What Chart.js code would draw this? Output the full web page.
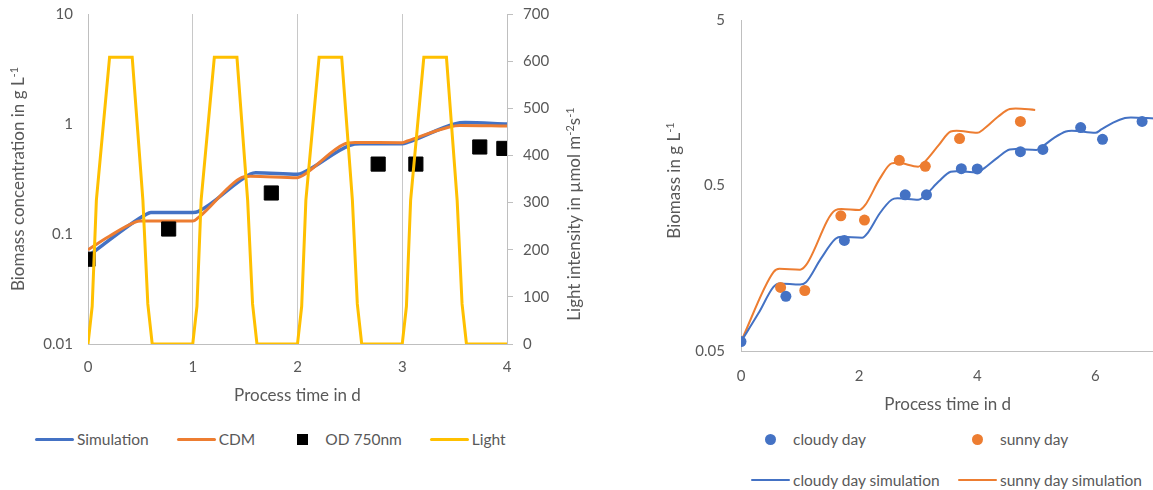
<!DOCTYPE html>
<html>
<head>
<meta charset="utf-8">
<script src="https://cdn.jsdelivr.net/npm/chart.js@4.4.1/dist/chart.umd.min.js"></script>
<style>
  html, body { margin: 0; padding: 0; background: #fff; overflow: hidden; width: 1153px; height: 490px; }
  body { position: relative; font-family: Lato, "Open Sans", sans-serif; color: #595959; }
  canvas { position: absolute; top: 0; }
  #growth { left: 0; }
  #weather { left: 620px; }
  .legend { position: absolute; display: flex; align-items: center; font-size: 15.5px; white-space: nowrap; }
  .item { display: flex; align-items: center; margin-right: 28px; }
  .mark { width: 39px; height: 12px; display: flex; align-items: center; justify-content: center; margin-right: 3px; }
  .line { width: 39px; border-radius: 2px; }
  .square { width: 11px; height: 11px; }
  .dot { width: 11px; height: 11px; border-radius: 50%; }
  #legendGrowth { left: 35px; top: 430px; }
  #legendWeather { left: 751px; top: 430px; display: grid; grid-template-columns: 207px auto; row-gap: 23px; }
</style>
</head>
<body>
<canvas id="growth" width="600" height="420"></canvas>
<canvas id="weather" width="540" height="420"></canvas>
<div class="legend" id="legendGrowth"></div>
<div class="legend" id="legendWeather"></div>
<script>
// ---- left panel: 4-day run with light profile ----
const simTime    = [0, 0.55, 0.6, 1.0, 1.05, 1.55, 1.6, 2.0, 2.05, 2.5, 2.6, 3.0, 3.05, 3.5, 3.6, 4.0];
const simBiomass = [0.063, 0.150, 0.157, 0.157, 0.16, 0.35, 0.36, 0.35, 0.36, 0.64, 0.66, 0.66, 0.68, 1.0, 1.03, 1.0];

const cdmTime    = [0, 0.2, 0.45, 0.5, 1.0, 1.05, 1.45, 1.55, 2.0, 2.05, 2.45, 2.55, 3.0, 3.05, 3.45, 3.55, 4.0];
const cdmBiomass = [0.072, 0.095, 0.128, 0.131, 0.131, 0.14, 0.32, 0.335, 0.325, 0.34, 0.66, 0.68, 0.675, 0.70, 0.94, 0.97, 0.96];

const odTime  = [0, 0.77, 1.75, 2.77, 3.13, 3.74, 3.97];
const odValue = [0.059, 0.111, 0.236, 0.432, 0.432, 0.618, 0.600];

const lightTime = [
  0, 0.04, 0.08, 0.206, 0.422, 0.524, 0.571, 0.613,
  1, 1.04, 1.08, 1.206, 1.422, 1.524, 1.571, 1.613,
  2, 2.04, 2.08, 2.206, 2.422, 2.524, 2.571, 2.613,
  3, 3.04, 3.08, 3.206, 3.422, 3.524, 3.571, 3.613,
  4
];
const lightValue = [
  0, 80, 305, 608, 608, 305, 85, 0,
  0, 80, 305, 608, 608, 305, 85, 0,
  0, 80, 305, 608, 608, 305, 85, 0,
  0, 80, 305, 608, 608, 305, 85, 0,
  0
];

const growthTicks = [0.01, 0.1, 1, 10];

// ---- right panel: cloudy vs sunny day cultivation ----
const cloudyTime  = [0, 0.76, 1.75, 2.78, 3.14, 3.73, 4.0, 4.73, 5.11, 5.75, 6.12, 6.79];
const cloudyValue = [0.057, 0.107, 0.233, 0.439, 0.439, 0.632, 0.63, 0.80, 0.826, 1.12, 0.95, 1.22];

const sunnyTime  = [0.67, 1.08, 1.69, 2.09, 2.68, 3.12, 3.70, 4.73];
const sunnyValue = [0.121, 0.116, 0.328, 0.309, 0.71, 0.653, 0.96, 1.22];

const cloudySimTime  = [0, 0.3, 0.55, 0.65, 1.0, 1.1, 1.35, 1.6, 1.7, 2.05, 2.15, 2.35, 2.55, 2.65, 3.0, 3.1, 3.35, 3.55, 3.65, 4.0, 4.1, 4.35, 4.55, 4.65, 5.0, 5.1, 5.3, 5.5, 5.6, 6.0, 6.1, 6.3, 6.5, 6.6, 7.0];
const cloudySimValue = [0.057, 0.085, 0.122, 0.128, 0.126, 0.13, 0.18, 0.238, 0.245, 0.242, 0.26, 0.34, 0.41, 0.418, 0.41, 0.43, 0.53, 0.605, 0.61, 0.60, 0.63, 0.74, 0.825, 0.83, 0.82, 0.86, 0.97, 1.06, 1.07, 1.04, 1.09, 1.2, 1.28, 1.29, 1.27];

const sunnySimTime  = [0, 0.55, 0.65, 1.0, 1.1, 1.6, 1.7, 2.0, 2.1, 2.35, 2.55, 2.65, 3.0, 3.1, 3.35, 3.55, 3.65, 4.0, 4.1, 4.35, 4.55, 4.65, 4.98];
const sunnySimValue = [0.057, 0.150, 0.157, 0.155, 0.165, 0.355, 0.36, 0.355, 0.38, 0.55, 0.68, 0.685, 0.65, 0.69, 0.88, 1.06, 1.07, 1.04, 1.09, 1.3, 1.45, 1.46, 1.43];

const weatherTicks = [0.05, 0.5, 5];

const BLUE = '#4472C4', ORANGE = '#ED7D31', GOLD = '#FFC000', AXIS = '#BFBFBF', TEXT = '#595959';
const FONT = 'Lato, "Open Sans", sans-serif';

Chart.defaults.font.family = FONT;
Chart.defaults.font.size = 15;
Chart.defaults.color = TEXT;

const xy = (xs, ys) => xs.map((x, i) => ({ x: x, y: ys[i] }));

// fixed axis width; drop the tick-padding chart.js adds above/below vertical axes
const fixWidth = w => scale => {
  scale.width = w;
  scale.paddingTop = 0;
  scale.paddingBottom = 0;
};

// rotated axis titles with superscripts, reading bottom to top
function sideTitles(items) {
  return {
    id: 'sideTitles',
    afterDraw(chart) {
      const ctx = chart.ctx;
      const area = chart.chartArea;
      items.forEach(item => {
        const cx = item.side === 'left' ? area.left - item.offset : area.right + item.offset;
        const cy = (area.top + area.bottom) / 2 + (item.shift || 0);
        const widths = item.parts.map(p => {
          ctx.font = (p.sup ? '11px ' : '17px ') + FONT;
          return ctx.measureText(p.text).width;
        });
        const total = widths.reduce((a, b) => a + b, 0);
        ctx.save();
        ctx.translate(cx, cy);
        ctx.rotate(-Math.PI / 2);
        ctx.fillStyle = TEXT;
        ctx.textBaseline = 'middle';
        let x = -total / 2;
        item.parts.forEach((p, i) => {
          ctx.font = (p.sup ? '11px ' : '17px ') + FONT;
          ctx.fillText(p.text, x, p.sup ? -5 : 0);
          x += widths[i];
        });
        ctx.restore();
      });
    }
  };
}

const growthChart = new Chart(document.getElementById('growth'), {
  type: 'line',
  data: {
    datasets: [
      {
        label: 'Simulation',
        data: xy(simTime, simBiomass),
        borderColor: BLUE, borderWidth: 3.5, pointRadius: 0,
        cubicInterpolationMode: 'monotone', yAxisID: 'y', order: 3
      },
      {
        label: 'CDM',
        data: xy(cdmTime, cdmBiomass),
        borderColor: ORANGE, borderWidth: 3, pointRadius: 0,
        cubicInterpolationMode: 'monotone', yAxisID: 'y', order: 2
      },
      {
        label: 'OD 750nm',
        data: xy(odTime, odValue),
        showLine: false, pointStyle: 'rect', pointRadius: 10,
        backgroundColor: '#000', borderColor: '#000', borderWidth: 1,
        yAxisID: 'y', order: 1
      },
      {
        label: 'Light',
        data: xy(lightTime, lightValue),
        borderColor: GOLD, borderWidth: 3, pointRadius: 0,
        tension: 0, yAxisID: 'y1', order: 0
      }
    ]
  },
  options: {
    responsive: false,
    animation: false,
    devicePixelRatio: 1,
    layout: { padding: { top: 14, left: 0, right: 0, bottom: 0 } },
    plugins: { legend: { display: false }, tooltip: { enabled: false } },
    scales: {
      x: {
        type: 'linear', min: 0, max: 4,
        ticks: { stepSize: 1, padding: 14 },
        grid: { color: '#C8C8C8', drawTicks: false },
        border: { color: AXIS },
        title: { display: true, text: 'Process time in d', font: { size: 17 }, padding: { top: 0, bottom: 14 } },
        afterFit(scale) { scale.height = 76; }
      },
      y: {
        type: 'logarithmic', position: 'left', min: 0.01, max: 10,
        afterBuildTicks(scale) { scale.ticks = growthTicks.map(v => ({ value: v })); },
        ticks: { padding: 15, callback: v => String(v) },
        grid: { display: false, drawTicks: false },
        border: { display: true, color: AXIS },
        afterFit: fixWidth(88)
      },
      y1: {
        type: 'linear', position: 'right', min: 0, max: 700,
        ticks: { stepSize: 100, padding: 10 },
        grid: { drawOnChartArea: false, drawTicks: true, tickLength: 6, color: AXIS },
        border: { color: AXIS },
        afterFit: fixWidth(93)
      }
    }
  },
  plugins: [sideTitles([
    { side: 'left', offset: 69, parts: [{ text: 'Biomass concentration in g L' }, { text: '-1', sup: true }] },
    { side: 'right', offset: 68, shift: 35, parts: [{ text: 'Light intensity in \u00b5mol m' }, { text: '-2', sup: true }, { text: 's' }, { text: '-1', sup: true }] }
  ])]
});

const weatherChart = new Chart(document.getElementById('weather'), {
  type: 'line',
  data: {
    datasets: [
      {
        label: 'cloudy day',
        data: xy(cloudyTime, cloudyValue),
        showLine: false, pointRadius: 5.5, pointStyle: 'circle',
        backgroundColor: BLUE, borderColor: BLUE, borderWidth: 0, order: 0
      },
      {
        label: 'sunny day',
        data: xy(sunnyTime, sunnyValue),
        showLine: false, pointRadius: 5.5, pointStyle: 'circle',
        backgroundColor: ORANGE, borderColor: ORANGE, borderWidth: 0, order: 1
      },
      {
        label: 'cloudy day simulation',
        data: xy(cloudySimTime, cloudySimValue),
        borderColor: BLUE, borderWidth: 2, pointRadius: 0,
        cubicInterpolationMode: 'monotone', order: 2
      },
      {
        label: 'sunny day simulation',
        data: xy(sunnySimTime, sunnySimValue),
        borderColor: ORANGE, borderWidth: 2, pointRadius: 0,
        cubicInterpolationMode: 'monotone', order: 3
      }
    ]
  },
  options: {
    responsive: false,
    animation: false,
    devicePixelRatio: 1,
    layout: { padding: { top: 20, left: 0, right: 0, bottom: 0 } },
    plugins: { legend: { display: false }, tooltip: { enabled: false } },
    scales: {
      x: {
        type: 'linear', min: 0, max: 7,
        ticks: { stepSize: 2, padding: 16, includeBounds: false },
        grid: { display: false, drawTicks: false },
        border: { color: AXIS },
        title: { display: true, text: 'Process time in d', font: { size: 17 }, padding: { top: 0, bottom: 5 } },
        afterFit(scale) { scale.height = 69; }
      },
      y: {
        type: 'logarithmic', min: 0.05, max: 5,
        afterBuildTicks(scale) { scale.ticks = weatherTicks.map(v => ({ value: v })); },
        ticks: { padding: 16, callback: v => String(v) },
        grid: { display: false, drawTicks: false },
        border: { display: true, color: AXIS },
        afterFit: fixWidth(121)
      }
    }
  },
  plugins: [sideTitles([
    { side: 'left', offset: 66, shift: -5, parts: [{ text: 'Biomass in g L' }, { text: '-1', sup: true }] }
  ])]
});

// HTML legends built from the datasets
function markFor(ds) {
  const mark = document.createElement('span');
  mark.className = 'mark';
  const inner = document.createElement('span');
  if (ds.showLine === false) {
    inner.className = ds.pointStyle === 'rect' ? 'square' : 'dot';
    inner.style.background = ds.backgroundColor;
  } else {
    inner.className = 'line';
    inner.style.height = (ds.borderWidth >= 3 ? 3 : 2) + 'px';
    inner.style.background = ds.borderColor;
  }
  mark.appendChild(inner);
  return mark;
}

function buildLegend(chart, el) {
  chart.data.datasets.forEach(ds => {
    const item = document.createElement('span');
    item.className = 'item';
    item.appendChild(markFor(ds));
    const label = document.createElement('span');
    label.textContent = ds.label;
    item.appendChild(label);
    el.appendChild(item);
  });
}

buildLegend(growthChart, document.getElementById('legendGrowth'));
buildLegend(weatherChart, document.getElementById('legendWeather'));
</script>
</body>
</html>
